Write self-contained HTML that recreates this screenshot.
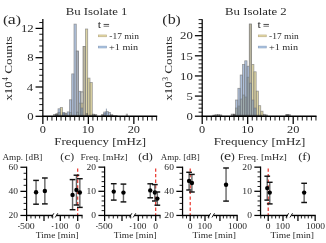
<!DOCTYPE html>
<html><head><meta charset="utf-8"><style>
html,body{margin:0;padding:0;background:#fff;}
svg{display:block;will-change:transform;}
text{font-family:"Liberation Serif", serif;fill:#2a2a2a;}
</style></head><body>
<svg width="326" height="243" viewBox="0 0 326 243">
<rect width="326" height="243" fill="#fff"/>
<rect x="53.44" y="114.30" width="2.29" height="2.00" fill="#555" fill-opacity="0.55" stroke="#333" stroke-opacity="0.4" stroke-width="0.6"/>
<rect x="55.72" y="114.00" width="2.29" height="2.30" fill="#555" fill-opacity="0.55" stroke="#333" stroke-opacity="0.4" stroke-width="0.6"/>
<rect x="58.00" y="112.50" width="2.29" height="3.80" fill="#b9a94b" fill-opacity="0.5" stroke="#7a7a7a" stroke-opacity="0.75" stroke-width="0.75"/>
<rect x="60.29" y="107.50" width="2.29" height="8.80" fill="#b9a94b" fill-opacity="0.5" stroke="#7a7a7a" stroke-opacity="0.75" stroke-width="0.75"/>
<rect x="62.58" y="113.00" width="2.29" height="3.30" fill="#555" fill-opacity="0.55" stroke="#333" stroke-opacity="0.4" stroke-width="0.6"/>
<rect x="64.86" y="113.20" width="2.29" height="3.10" fill="#555" fill-opacity="0.55" stroke="#333" stroke-opacity="0.4" stroke-width="0.6"/>
<rect x="69.43" y="112.50" width="2.29" height="3.80" fill="#b9a94b" fill-opacity="0.5" stroke="#7a7a7a" stroke-opacity="0.75" stroke-width="0.75"/>
<rect x="76.28" y="112.00" width="2.29" height="4.30" fill="#b9a94b" fill-opacity="0.5" stroke="#7a7a7a" stroke-opacity="0.75" stroke-width="0.75"/>
<rect x="78.57" y="103.10" width="2.29" height="13.20" fill="#b9a94b" fill-opacity="0.5" stroke="#7a7a7a" stroke-opacity="0.75" stroke-width="0.75"/>
<rect x="80.86" y="92.00" width="2.29" height="24.30" fill="#b9a94b" fill-opacity="0.5" stroke="#7a7a7a" stroke-opacity="0.75" stroke-width="0.75"/>
<rect x="83.14" y="46.40" width="2.29" height="69.90" fill="#b9a94b" fill-opacity="0.5" stroke="#7a7a7a" stroke-opacity="0.75" stroke-width="0.75"/>
<rect x="85.42" y="29.00" width="2.29" height="87.30" fill="#b9a94b" fill-opacity="0.5" stroke="#7a7a7a" stroke-opacity="0.75" stroke-width="0.75"/>
<rect x="87.71" y="78.10" width="2.29" height="38.20" fill="#b9a94b" fill-opacity="0.5" stroke="#7a7a7a" stroke-opacity="0.75" stroke-width="0.75"/>
<rect x="90.00" y="82.60" width="2.29" height="33.70" fill="#b9a94b" fill-opacity="0.5" stroke="#7a7a7a" stroke-opacity="0.75" stroke-width="0.75"/>
<rect x="92.28" y="114.00" width="2.29" height="2.30" fill="#555" fill-opacity="0.55" stroke="#333" stroke-opacity="0.4" stroke-width="0.6"/>
<rect x="94.56" y="114.50" width="2.29" height="1.80" fill="#555" fill-opacity="0.55" stroke="#333" stroke-opacity="0.4" stroke-width="0.6"/>
<rect x="101.42" y="114.30" width="2.29" height="2.00" fill="#555" fill-opacity="0.55" stroke="#333" stroke-opacity="0.4" stroke-width="0.6"/>
<rect x="103.70" y="113.50" width="2.29" height="2.80" fill="#555" fill-opacity="0.55" stroke="#333" stroke-opacity="0.4" stroke-width="0.6"/>
<rect x="55.72" y="113.70" width="2.29" height="2.60" fill="#555" fill-opacity="0.55" stroke="#333" stroke-opacity="0.4" stroke-width="0.6"/>
<rect x="58.00" y="108.80" width="2.29" height="7.50" fill="#5f81b5" fill-opacity="0.5" stroke="#7a7a7a" stroke-opacity="0.75" stroke-width="0.75"/>
<rect x="62.58" y="112.60" width="2.29" height="3.70" fill="#5f81b5" fill-opacity="0.5" stroke="#7a7a7a" stroke-opacity="0.75" stroke-width="0.75"/>
<rect x="67.14" y="111.90" width="2.29" height="4.40" fill="#5f81b5" fill-opacity="0.5" stroke="#7a7a7a" stroke-opacity="0.75" stroke-width="0.75"/>
<rect x="69.43" y="99.80" width="2.29" height="16.50" fill="#5f81b5" fill-opacity="0.5" stroke="#7a7a7a" stroke-opacity="0.75" stroke-width="0.75"/>
<rect x="71.72" y="73.90" width="2.29" height="42.40" fill="#5f81b5" fill-opacity="0.5" stroke="#7a7a7a" stroke-opacity="0.75" stroke-width="0.75"/>
<rect x="74.00" y="24.10" width="2.29" height="92.20" fill="#5f81b5" fill-opacity="0.5" stroke="#7a7a7a" stroke-opacity="0.75" stroke-width="0.75"/>
<rect x="76.28" y="51.10" width="2.29" height="65.20" fill="#5f81b5" fill-opacity="0.5" stroke="#7a7a7a" stroke-opacity="0.75" stroke-width="0.75"/>
<rect x="78.57" y="91.30" width="2.29" height="25.00" fill="#5f81b5" fill-opacity="0.5" stroke="#7a7a7a" stroke-opacity="0.75" stroke-width="0.75"/>
<rect x="80.86" y="108.00" width="2.29" height="8.30" fill="#5f81b5" fill-opacity="0.5" stroke="#7a7a7a" stroke-opacity="0.75" stroke-width="0.75"/>
<rect x="83.14" y="112.00" width="2.29" height="4.30" fill="#5f81b5" fill-opacity="0.5" stroke="#7a7a7a" stroke-opacity="0.75" stroke-width="0.75"/>
<rect x="85.42" y="113.50" width="2.29" height="2.80" fill="#555" fill-opacity="0.55" stroke="#333" stroke-opacity="0.4" stroke-width="0.6"/>
<rect x="103.70" y="112.00" width="2.29" height="4.30" fill="#5f81b5" fill-opacity="0.5" stroke="#7a7a7a" stroke-opacity="0.75" stroke-width="0.75"/>
<rect x="105.99" y="111.60" width="2.29" height="4.70" fill="#5f81b5" fill-opacity="0.5" stroke="#7a7a7a" stroke-opacity="0.75" stroke-width="0.75"/>
<rect x="108.28" y="112.40" width="2.29" height="3.90" fill="#5f81b5" fill-opacity="0.5" stroke="#7a7a7a" stroke-opacity="0.75" stroke-width="0.75"/>
<rect x="110.56" y="114.60" width="2.29" height="1.70" fill="#555" fill-opacity="0.55" stroke="#333" stroke-opacity="0.4" stroke-width="0.6"/>
<rect x="76.28" y="51.10" width="2.29" height="60.90" fill="#a9b0bc" stroke="#7a7a7a" stroke-opacity="0.75" stroke-width="0.75"/>
<rect x="83.14" y="46.40" width="2.29" height="69.90" fill="#bdb8a0" stroke="#7a7a7a" stroke-opacity="0.75" stroke-width="0.75"/>
<rect x="80.86" y="92.00" width="2.29" height="11.10" fill="#cfcfc8" stroke="#7a7a7a" stroke-opacity="0.75" stroke-width="0.75"/>
<rect x="56.0" y="114.80" width="40.0" height="1.5" fill="#444" fill-opacity="0.55"/>
<rect x="101.5" y="115.00" width="16.0" height="1.3" fill="#444" fill-opacity="0.5"/>
<rect x="125.8" y="113.70" width="2.2" height="2.6" fill="#555" fill-opacity="0.5"/>
<rect x="105.9" y="108.6" width="0.9" height="7.70" fill="#6f7f95" fill-opacity="0.8"/>
<line x1="42.85" y1="19.00" x2="42.85" y2="116.30" stroke="#000" stroke-width="1.25" />
<line x1="42.25" y1="116.30" x2="157.20" y2="116.30" stroke="#000" stroke-width="1.4" />
<line x1="42.85" y1="116.30" x2="42.85" y2="124.10" stroke="#000" stroke-width="1.25" />
<line x1="47.40" y1="116.30" x2="47.40" y2="120.60" stroke="#000" stroke-width="0.9" />
<line x1="51.95" y1="116.30" x2="51.95" y2="120.60" stroke="#000" stroke-width="0.9" />
<line x1="56.50" y1="116.30" x2="56.50" y2="120.60" stroke="#000" stroke-width="0.9" />
<line x1="61.05" y1="116.30" x2="61.05" y2="120.60" stroke="#000" stroke-width="0.9" />
<line x1="65.60" y1="116.30" x2="65.60" y2="120.60" stroke="#000" stroke-width="0.9" />
<line x1="70.15" y1="116.30" x2="70.15" y2="120.60" stroke="#000" stroke-width="0.9" />
<line x1="74.70" y1="116.30" x2="74.70" y2="120.60" stroke="#000" stroke-width="0.9" />
<line x1="79.25" y1="116.30" x2="79.25" y2="120.60" stroke="#000" stroke-width="0.9" />
<line x1="83.80" y1="116.30" x2="83.80" y2="120.60" stroke="#000" stroke-width="0.9" />
<line x1="88.35" y1="116.30" x2="88.35" y2="124.10" stroke="#000" stroke-width="1.25" />
<line x1="92.90" y1="116.30" x2="92.90" y2="120.60" stroke="#000" stroke-width="0.9" />
<line x1="97.45" y1="116.30" x2="97.45" y2="120.60" stroke="#000" stroke-width="0.9" />
<line x1="102.00" y1="116.30" x2="102.00" y2="120.60" stroke="#000" stroke-width="0.9" />
<line x1="106.55" y1="116.30" x2="106.55" y2="120.60" stroke="#000" stroke-width="0.9" />
<line x1="111.10" y1="116.30" x2="111.10" y2="120.60" stroke="#000" stroke-width="0.9" />
<line x1="115.65" y1="116.30" x2="115.65" y2="120.60" stroke="#000" stroke-width="0.9" />
<line x1="120.20" y1="116.30" x2="120.20" y2="120.60" stroke="#000" stroke-width="0.9" />
<line x1="124.75" y1="116.30" x2="124.75" y2="120.60" stroke="#000" stroke-width="0.9" />
<line x1="129.30" y1="116.30" x2="129.30" y2="120.60" stroke="#000" stroke-width="0.9" />
<line x1="133.85" y1="116.30" x2="133.85" y2="124.10" stroke="#000" stroke-width="1.25" />
<line x1="138.40" y1="116.30" x2="138.40" y2="120.60" stroke="#000" stroke-width="0.9" />
<line x1="142.95" y1="116.30" x2="142.95" y2="120.60" stroke="#000" stroke-width="0.9" />
<line x1="147.50" y1="116.30" x2="147.50" y2="120.60" stroke="#000" stroke-width="0.9" />
<line x1="152.05" y1="116.30" x2="152.05" y2="120.60" stroke="#000" stroke-width="0.9" />
<line x1="156.60" y1="116.30" x2="156.60" y2="120.60" stroke="#000" stroke-width="0.9" />
<text x="39.77" y="133.00" font-size="11" textLength="6.16" lengthAdjust="spacingAndGlyphs" >0</text>
<text x="81.88" y="133.00" font-size="11" textLength="12.32" lengthAdjust="spacingAndGlyphs" >10</text>
<text x="127.65" y="133.00" font-size="11" textLength="12.32" lengthAdjust="spacingAndGlyphs" >20</text>
<line x1="35.55" y1="116.30" x2="42.85" y2="116.30" stroke="#000" stroke-width="1.25" />
<text x="27.15" y="120.05" font-size="11.4" textLength="6.38" lengthAdjust="spacingAndGlyphs" >0</text>
<line x1="35.55" y1="87.00" x2="42.85" y2="87.00" stroke="#000" stroke-width="1.25" />
<text x="26.87" y="90.75" font-size="11.4" textLength="6.38" lengthAdjust="spacingAndGlyphs" >4</text>
<line x1="35.55" y1="57.70" x2="42.85" y2="57.70" stroke="#000" stroke-width="1.25" />
<text x="27.15" y="61.45" font-size="11.4" textLength="6.38" lengthAdjust="spacingAndGlyphs" >8</text>
<line x1="35.55" y1="28.40" x2="42.85" y2="28.40" stroke="#000" stroke-width="1.25" />
<text x="20.99" y="32.15" font-size="11.4" textLength="12.77" lengthAdjust="spacingAndGlyphs" >12</text>
<line x1="39.25" y1="110.44" x2="42.85" y2="110.44" stroke="#000" stroke-width="0.9" />
<line x1="39.25" y1="104.58" x2="42.85" y2="104.58" stroke="#000" stroke-width="0.9" />
<line x1="39.25" y1="98.72" x2="42.85" y2="98.72" stroke="#000" stroke-width="0.9" />
<line x1="39.25" y1="92.86" x2="42.85" y2="92.86" stroke="#000" stroke-width="0.9" />
<line x1="39.25" y1="81.14" x2="42.85" y2="81.14" stroke="#000" stroke-width="0.9" />
<line x1="39.25" y1="75.28" x2="42.85" y2="75.28" stroke="#000" stroke-width="0.9" />
<line x1="39.25" y1="69.42" x2="42.85" y2="69.42" stroke="#000" stroke-width="0.9" />
<line x1="39.25" y1="63.56" x2="42.85" y2="63.56" stroke="#000" stroke-width="0.9" />
<line x1="39.25" y1="51.84" x2="42.85" y2="51.84" stroke="#000" stroke-width="0.9" />
<line x1="39.25" y1="45.98" x2="42.85" y2="45.98" stroke="#000" stroke-width="0.9" />
<line x1="39.25" y1="40.12" x2="42.85" y2="40.12" stroke="#000" stroke-width="0.9" />
<line x1="39.25" y1="34.26" x2="42.85" y2="34.26" stroke="#000" stroke-width="0.9" />
<line x1="39.25" y1="22.54" x2="42.85" y2="22.54" stroke="#000" stroke-width="0.9" />
<text x="54.33" y="144.90" font-size="11" textLength="91.63" lengthAdjust="spacingAndGlyphs" >Frequency [mHz]</text>
<text x="65.73" y="14.70" font-size="11.4" textLength="61.74" lengthAdjust="spacingAndGlyphs" >Bu Isolate 1</text>
<text x="3.00" y="24.40" font-size="13.1" textLength="5.32" lengthAdjust="spacingAndGlyphs" >(</text>
<text x="7.77" y="24.40" font-size="14.6" textLength="7.98" lengthAdjust="spacingAndGlyphs" >a</text>
<text x="15.69" y="24.40" font-size="13.1" textLength="5.32" lengthAdjust="spacingAndGlyphs" >)</text>
<g transform="translate(12.40,100.4) rotate(-90)"><text x="-0.11" y="0.00" font-size="11" textLength="18.99" lengthAdjust="spacingAndGlyphs">x10</text><text x="19.77" y="-4.10" font-size="7.9" textLength="3.33" lengthAdjust="spacingAndGlyphs">4</text><text x="26.56" y="0.00" font-size="11" textLength="37.62" lengthAdjust="spacingAndGlyphs">Counts</text></g>
<text x="97.78" y="27.80" font-size="10.0" textLength="3.39" lengthAdjust="spacingAndGlyphs" >t</text>
<line x1="103.60" y1="24.45" x2="109.10" y2="24.45" stroke="#222" stroke-width="0.8" />
<line x1="103.60" y1="26.25" x2="109.10" y2="26.25" stroke="#444" stroke-width="0.75" />
<rect x="98.50" y="35.0" width="7.9" height="1.7" fill="#efe4a8" stroke="#bdb089" stroke-width="0.75"/>
<text x="109.25" y="38.80" font-size="8.6" textLength="29.69" lengthAdjust="spacingAndGlyphs" >-17 min</text>
<rect x="98.50" y="46.2" width="7.9" height="1.7" fill="#afcdf0" stroke="#8ea3bf" stroke-width="0.75"/>
<text x="109.10" y="50.00" font-size="8.6" textLength="29.06" lengthAdjust="spacingAndGlyphs" >+1 min</text>
<rect x="233.31" y="114.00" width="2.29" height="2.20" fill="#555" fill-opacity="0.55" stroke="#333" stroke-opacity="0.4" stroke-width="0.6"/>
<rect x="235.60" y="108.00" width="2.29" height="8.20" fill="#b9a94b" fill-opacity="0.5" stroke="#7a7a7a" stroke-opacity="0.75" stroke-width="0.75"/>
<rect x="237.88" y="106.00" width="2.29" height="10.20" fill="#b9a94b" fill-opacity="0.5" stroke="#7a7a7a" stroke-opacity="0.75" stroke-width="0.75"/>
<rect x="240.17" y="99.00" width="2.29" height="17.20" fill="#b9a94b" fill-opacity="0.5" stroke="#7a7a7a" stroke-opacity="0.75" stroke-width="0.75"/>
<rect x="242.45" y="95.00" width="2.29" height="21.20" fill="#b9a94b" fill-opacity="0.5" stroke="#7a7a7a" stroke-opacity="0.75" stroke-width="0.75"/>
<rect x="244.74" y="97.00" width="2.29" height="19.20" fill="#b9a94b" fill-opacity="0.5" stroke="#7a7a7a" stroke-opacity="0.75" stroke-width="0.75"/>
<rect x="247.03" y="77.20" width="2.29" height="39.00" fill="#b9a94b" fill-opacity="0.5" stroke="#7a7a7a" stroke-opacity="0.75" stroke-width="0.75"/>
<rect x="249.31" y="24.10" width="2.29" height="92.10" fill="#b9a94b" fill-opacity="0.5" stroke="#7a7a7a" stroke-opacity="0.75" stroke-width="0.75"/>
<rect x="251.59" y="64.50" width="2.29" height="51.70" fill="#b9a94b" fill-opacity="0.5" stroke="#7a7a7a" stroke-opacity="0.75" stroke-width="0.75"/>
<rect x="253.88" y="71.80" width="2.29" height="44.40" fill="#b9a94b" fill-opacity="0.5" stroke="#7a7a7a" stroke-opacity="0.75" stroke-width="0.75"/>
<rect x="256.17" y="91.10" width="2.29" height="25.10" fill="#b9a94b" fill-opacity="0.5" stroke="#7a7a7a" stroke-opacity="0.75" stroke-width="0.75"/>
<rect x="258.45" y="105.70" width="2.29" height="10.50" fill="#b9a94b" fill-opacity="0.5" stroke="#7a7a7a" stroke-opacity="0.75" stroke-width="0.75"/>
<rect x="260.74" y="111.20" width="2.29" height="5.00" fill="#b9a94b" fill-opacity="0.5" stroke="#7a7a7a" stroke-opacity="0.75" stroke-width="0.75"/>
<rect x="263.02" y="114.20" width="2.29" height="2.00" fill="#555" fill-opacity="0.55" stroke="#333" stroke-opacity="0.4" stroke-width="0.6"/>
<rect x="265.31" y="114.80" width="2.29" height="1.40" fill="#555" fill-opacity="0.55" stroke="#333" stroke-opacity="0.4" stroke-width="0.6"/>
<rect x="285.87" y="114.60" width="2.29" height="1.60" fill="#555" fill-opacity="0.55" stroke="#333" stroke-opacity="0.4" stroke-width="0.6"/>
<rect x="212.75" y="115.00" width="2.29" height="1.20" fill="#555" fill-opacity="0.55" stroke="#333" stroke-opacity="0.4" stroke-width="0.6"/>
<rect x="215.03" y="114.60" width="2.29" height="1.60" fill="#555" fill-opacity="0.55" stroke="#333" stroke-opacity="0.4" stroke-width="0.6"/>
<rect x="217.32" y="114.40" width="2.29" height="1.80" fill="#555" fill-opacity="0.55" stroke="#333" stroke-opacity="0.4" stroke-width="0.6"/>
<rect x="219.60" y="114.80" width="2.29" height="1.40" fill="#555" fill-opacity="0.55" stroke="#333" stroke-opacity="0.4" stroke-width="0.6"/>
<rect x="231.03" y="114.00" width="2.29" height="2.20" fill="#555" fill-opacity="0.55" stroke="#333" stroke-opacity="0.4" stroke-width="0.6"/>
<rect x="233.31" y="114.60" width="2.29" height="1.60" fill="#555" fill-opacity="0.55" stroke="#333" stroke-opacity="0.4" stroke-width="0.6"/>
<rect x="235.60" y="100.00" width="2.29" height="16.20" fill="#5f81b5" fill-opacity="0.5" stroke="#7a7a7a" stroke-opacity="0.75" stroke-width="0.75"/>
<rect x="237.88" y="88.30" width="2.29" height="27.90" fill="#5f81b5" fill-opacity="0.5" stroke="#7a7a7a" stroke-opacity="0.75" stroke-width="0.75"/>
<rect x="240.17" y="75.00" width="2.29" height="41.20" fill="#5f81b5" fill-opacity="0.5" stroke="#7a7a7a" stroke-opacity="0.75" stroke-width="0.75"/>
<rect x="242.45" y="64.50" width="2.29" height="51.70" fill="#5f81b5" fill-opacity="0.5" stroke="#7a7a7a" stroke-opacity="0.75" stroke-width="0.75"/>
<rect x="244.74" y="60.80" width="2.29" height="55.40" fill="#5f81b5" fill-opacity="0.5" stroke="#7a7a7a" stroke-opacity="0.75" stroke-width="0.75"/>
<rect x="247.03" y="66.20" width="2.29" height="50.00" fill="#5f81b5" fill-opacity="0.5" stroke="#7a7a7a" stroke-opacity="0.75" stroke-width="0.75"/>
<rect x="249.31" y="83.00" width="2.29" height="33.20" fill="#5f81b5" fill-opacity="0.5" stroke="#7a7a7a" stroke-opacity="0.75" stroke-width="0.75"/>
<rect x="251.59" y="100.00" width="2.29" height="16.20" fill="#5f81b5" fill-opacity="0.5" stroke="#7a7a7a" stroke-opacity="0.75" stroke-width="0.75"/>
<rect x="253.88" y="108.00" width="2.29" height="8.20" fill="#5f81b5" fill-opacity="0.5" stroke="#7a7a7a" stroke-opacity="0.75" stroke-width="0.75"/>
<rect x="285.87" y="114.60" width="2.29" height="1.60" fill="#555" fill-opacity="0.55" stroke="#333" stroke-opacity="0.4" stroke-width="0.6"/>
<rect x="288.15" y="114.50" width="2.29" height="1.70" fill="#555" fill-opacity="0.55" stroke="#333" stroke-opacity="0.4" stroke-width="0.6"/>
<rect x="249.31" y="24.10" width="2.29" height="58.90" fill="#bab6a0" stroke="#7a7a7a" stroke-opacity="0.75" stroke-width="0.75"/>
<rect x="233.0" y="114.70" width="29.0" height="1.5" fill="#444" fill-opacity="0.55"/>
<line x1="202.20" y1="19.20" x2="202.20" y2="116.20" stroke="#000" stroke-width="1.25" />
<line x1="201.60" y1="116.20" x2="316.55" y2="116.20" stroke="#000" stroke-width="1.4" />
<line x1="202.20" y1="116.20" x2="202.20" y2="124.00" stroke="#000" stroke-width="1.25" />
<line x1="206.75" y1="116.20" x2="206.75" y2="120.50" stroke="#000" stroke-width="0.9" />
<line x1="211.30" y1="116.20" x2="211.30" y2="120.50" stroke="#000" stroke-width="0.9" />
<line x1="215.85" y1="116.20" x2="215.85" y2="120.50" stroke="#000" stroke-width="0.9" />
<line x1="220.40" y1="116.20" x2="220.40" y2="120.50" stroke="#000" stroke-width="0.9" />
<line x1="224.95" y1="116.20" x2="224.95" y2="120.50" stroke="#000" stroke-width="0.9" />
<line x1="229.50" y1="116.20" x2="229.50" y2="120.50" stroke="#000" stroke-width="0.9" />
<line x1="234.05" y1="116.20" x2="234.05" y2="120.50" stroke="#000" stroke-width="0.9" />
<line x1="238.60" y1="116.20" x2="238.60" y2="120.50" stroke="#000" stroke-width="0.9" />
<line x1="243.15" y1="116.20" x2="243.15" y2="120.50" stroke="#000" stroke-width="0.9" />
<line x1="247.70" y1="116.20" x2="247.70" y2="124.00" stroke="#000" stroke-width="1.25" />
<line x1="252.25" y1="116.20" x2="252.25" y2="120.50" stroke="#000" stroke-width="0.9" />
<line x1="256.80" y1="116.20" x2="256.80" y2="120.50" stroke="#000" stroke-width="0.9" />
<line x1="261.35" y1="116.20" x2="261.35" y2="120.50" stroke="#000" stroke-width="0.9" />
<line x1="265.90" y1="116.20" x2="265.90" y2="120.50" stroke="#000" stroke-width="0.9" />
<line x1="270.45" y1="116.20" x2="270.45" y2="120.50" stroke="#000" stroke-width="0.9" />
<line x1="275.00" y1="116.20" x2="275.00" y2="120.50" stroke="#000" stroke-width="0.9" />
<line x1="279.55" y1="116.20" x2="279.55" y2="120.50" stroke="#000" stroke-width="0.9" />
<line x1="284.10" y1="116.20" x2="284.10" y2="120.50" stroke="#000" stroke-width="0.9" />
<line x1="288.65" y1="116.20" x2="288.65" y2="120.50" stroke="#000" stroke-width="0.9" />
<line x1="293.20" y1="116.20" x2="293.20" y2="124.00" stroke="#000" stroke-width="1.25" />
<line x1="297.75" y1="116.20" x2="297.75" y2="120.50" stroke="#000" stroke-width="0.9" />
<line x1="302.30" y1="116.20" x2="302.30" y2="120.50" stroke="#000" stroke-width="0.9" />
<line x1="306.85" y1="116.20" x2="306.85" y2="120.50" stroke="#000" stroke-width="0.9" />
<line x1="311.40" y1="116.20" x2="311.40" y2="120.50" stroke="#000" stroke-width="0.9" />
<line x1="315.95" y1="116.20" x2="315.95" y2="120.50" stroke="#000" stroke-width="0.9" />
<text x="199.12" y="133.00" font-size="11" textLength="6.16" lengthAdjust="spacingAndGlyphs" >0</text>
<text x="241.23" y="133.00" font-size="11" textLength="12.32" lengthAdjust="spacingAndGlyphs" >10</text>
<text x="287.00" y="133.00" font-size="11" textLength="12.32" lengthAdjust="spacingAndGlyphs" >20</text>
<line x1="194.90" y1="116.20" x2="202.20" y2="116.20" stroke="#000" stroke-width="1.25" />
<text x="186.50" y="119.95" font-size="11.4" textLength="6.38" lengthAdjust="spacingAndGlyphs" >0</text>
<line x1="194.90" y1="96.08" x2="202.20" y2="96.08" stroke="#000" stroke-width="1.25" />
<text x="186.51" y="99.83" font-size="11.4" textLength="6.38" lengthAdjust="spacingAndGlyphs" >5</text>
<line x1="194.90" y1="75.95" x2="202.20" y2="75.95" stroke="#000" stroke-width="1.25" />
<text x="180.12" y="79.70" font-size="11.4" textLength="12.77" lengthAdjust="spacingAndGlyphs" >10</text>
<line x1="194.90" y1="55.82" x2="202.20" y2="55.82" stroke="#000" stroke-width="1.25" />
<text x="180.13" y="59.57" font-size="11.4" textLength="12.77" lengthAdjust="spacingAndGlyphs" >15</text>
<line x1="194.90" y1="35.70" x2="202.20" y2="35.70" stroke="#000" stroke-width="1.25" />
<text x="180.12" y="39.45" font-size="11.4" textLength="12.77" lengthAdjust="spacingAndGlyphs" >20</text>
<line x1="198.60" y1="112.17" x2="202.20" y2="112.17" stroke="#000" stroke-width="0.9" />
<line x1="198.60" y1="108.15" x2="202.20" y2="108.15" stroke="#000" stroke-width="0.9" />
<line x1="198.60" y1="104.12" x2="202.20" y2="104.12" stroke="#000" stroke-width="0.9" />
<line x1="198.60" y1="100.10" x2="202.20" y2="100.10" stroke="#000" stroke-width="0.9" />
<line x1="198.60" y1="92.05" x2="202.20" y2="92.05" stroke="#000" stroke-width="0.9" />
<line x1="198.60" y1="88.03" x2="202.20" y2="88.03" stroke="#000" stroke-width="0.9" />
<line x1="198.60" y1="84.00" x2="202.20" y2="84.00" stroke="#000" stroke-width="0.9" />
<line x1="198.60" y1="79.97" x2="202.20" y2="79.97" stroke="#000" stroke-width="0.9" />
<line x1="198.60" y1="71.92" x2="202.20" y2="71.92" stroke="#000" stroke-width="0.9" />
<line x1="198.60" y1="67.90" x2="202.20" y2="67.90" stroke="#000" stroke-width="0.9" />
<line x1="198.60" y1="63.88" x2="202.20" y2="63.88" stroke="#000" stroke-width="0.9" />
<line x1="198.60" y1="59.85" x2="202.20" y2="59.85" stroke="#000" stroke-width="0.9" />
<line x1="198.60" y1="51.80" x2="202.20" y2="51.80" stroke="#000" stroke-width="0.9" />
<line x1="198.60" y1="47.77" x2="202.20" y2="47.77" stroke="#000" stroke-width="0.9" />
<line x1="198.60" y1="43.75" x2="202.20" y2="43.75" stroke="#000" stroke-width="0.9" />
<line x1="198.60" y1="39.72" x2="202.20" y2="39.72" stroke="#000" stroke-width="0.9" />
<line x1="198.60" y1="31.67" x2="202.20" y2="31.67" stroke="#000" stroke-width="0.9" />
<line x1="198.60" y1="27.65" x2="202.20" y2="27.65" stroke="#000" stroke-width="0.9" />
<line x1="198.60" y1="23.62" x2="202.20" y2="23.62" stroke="#000" stroke-width="0.9" />
<line x1="198.60" y1="19.60" x2="202.20" y2="19.60" stroke="#000" stroke-width="0.9" />
<text x="213.68" y="144.90" font-size="11" textLength="91.63" lengthAdjust="spacingAndGlyphs" >Frequency [mHz]</text>
<text x="225.08" y="14.70" font-size="11.4" textLength="61.67" lengthAdjust="spacingAndGlyphs" >Bu Isolate 2</text>
<text x="162.30" y="24.40" font-size="13.1" textLength="5.32" lengthAdjust="spacingAndGlyphs" >(</text>
<text x="167.80" y="24.40" font-size="13.9" textLength="8.01" lengthAdjust="spacingAndGlyphs" >b</text>
<text x="175.40" y="24.40" font-size="13.1" textLength="5.19" lengthAdjust="spacingAndGlyphs" >)</text>
<g transform="translate(172.10,100.4) rotate(-90)"><text x="-0.11" y="0.00" font-size="11" textLength="18.99" lengthAdjust="spacingAndGlyphs">x10</text><text x="19.54" y="-4.10" font-size="7.9" textLength="3.75" lengthAdjust="spacingAndGlyphs">3</text><text x="26.56" y="0.00" font-size="11" textLength="37.62" lengthAdjust="spacingAndGlyphs">Counts</text></g>
<text x="257.63" y="27.80" font-size="10.0" textLength="3.39" lengthAdjust="spacingAndGlyphs" >t</text>
<line x1="263.45" y1="24.45" x2="268.95" y2="24.45" stroke="#222" stroke-width="0.8" />
<line x1="263.45" y1="26.25" x2="268.95" y2="26.25" stroke="#444" stroke-width="0.75" />
<rect x="258.35" y="35.0" width="7.9" height="1.7" fill="#efe4a8" stroke="#bdb089" stroke-width="0.75"/>
<text x="269.10" y="38.80" font-size="8.6" textLength="29.69" lengthAdjust="spacingAndGlyphs" >-17 min</text>
<rect x="258.35" y="46.2" width="7.9" height="1.7" fill="#afcdf0" stroke="#8ea3bf" stroke-width="0.75"/>
<text x="268.95" y="50.00" font-size="8.6" textLength="29.06" lengthAdjust="spacingAndGlyphs" >+1 min</text>
<line x1="26.60" y1="166.65" x2="26.60" y2="215.45" stroke="#000" stroke-width="1.25" />
<line x1="20.40" y1="215.45" x2="26.60" y2="215.45" stroke="#000" stroke-width="1.25" />
<text x="8.44" y="218.25" font-size="8.5" textLength="9.52" lengthAdjust="spacingAndGlyphs" >20</text>
<line x1="20.40" y1="191.35" x2="26.60" y2="191.35" stroke="#000" stroke-width="1.25" />
<text x="8.44" y="194.15" font-size="8.5" textLength="9.52" lengthAdjust="spacingAndGlyphs" >40</text>
<line x1="20.40" y1="167.25" x2="26.60" y2="167.25" stroke="#000" stroke-width="1.25" />
<text x="8.44" y="170.05" font-size="8.5" textLength="9.52" lengthAdjust="spacingAndGlyphs" >60</text>
<line x1="23.60" y1="209.42" x2="26.60" y2="209.42" stroke="#000" stroke-width="0.9" />
<line x1="23.60" y1="203.40" x2="26.60" y2="203.40" stroke="#000" stroke-width="0.9" />
<line x1="23.60" y1="197.38" x2="26.60" y2="197.38" stroke="#000" stroke-width="0.9" />
<line x1="23.60" y1="185.32" x2="26.60" y2="185.32" stroke="#000" stroke-width="0.9" />
<line x1="23.60" y1="179.30" x2="26.60" y2="179.30" stroke="#000" stroke-width="0.9" />
<line x1="23.60" y1="173.27" x2="26.60" y2="173.27" stroke="#000" stroke-width="0.9" />
<text x="2.41" y="160.10" font-size="8.5" textLength="39.97" lengthAdjust="spacingAndGlyphs" >Amp. [dB]</text>
<text x="60.29" y="159.50" font-size="10.6" textLength="3.89" lengthAdjust="spacingAndGlyphs" >(</text>
<text x="64.16" y="159.50" font-size="11.4" textLength="6.27" lengthAdjust="spacingAndGlyphs" >c</text>
<text x="70.22" y="159.50" font-size="10.6" textLength="3.89" lengthAdjust="spacingAndGlyphs" >)</text>
<line x1="77.70" y1="168.40" x2="77.70" y2="215.45" stroke="#e8281e" stroke-width="1.15" stroke-dasharray="3.3,2.3"/>
<line x1="36.05" y1="180.40" x2="36.05" y2="204.20" stroke="#666" stroke-width="1.4" />
<line x1="33.20" y1="180.40" x2="38.90" y2="180.40" stroke="#111" stroke-width="1.45" />
<line x1="33.20" y1="204.20" x2="38.90" y2="204.20" stroke="#111" stroke-width="1.45" />
<circle cx="36.05" cy="192.30" r="2.2" fill="#000"/>
<line x1="44.85" y1="178.00" x2="44.85" y2="203.90" stroke="#666" stroke-width="1.4" />
<line x1="42.00" y1="178.00" x2="47.70" y2="178.00" stroke="#111" stroke-width="1.45" />
<line x1="42.00" y1="203.90" x2="47.70" y2="203.90" stroke="#111" stroke-width="1.45" />
<circle cx="44.85" cy="191.00" r="2.2" fill="#000"/>
<line x1="72.55" y1="179.60" x2="72.55" y2="209.70" stroke="#666" stroke-width="1.4" />
<line x1="69.70" y1="179.60" x2="75.40" y2="179.60" stroke="#111" stroke-width="1.45" />
<line x1="69.70" y1="209.70" x2="75.40" y2="209.70" stroke="#111" stroke-width="1.45" />
<circle cx="72.55" cy="194.90" r="2.2" fill="#000"/>
<line x1="76.45" y1="175.20" x2="76.45" y2="205.00" stroke="#666" stroke-width="1.4" />
<line x1="73.60" y1="175.20" x2="79.30" y2="175.20" stroke="#111" stroke-width="1.45" />
<line x1="73.60" y1="205.00" x2="79.30" y2="205.00" stroke="#111" stroke-width="1.45" />
<circle cx="76.45" cy="189.90" r="2.2" fill="#000"/>
<line x1="79.85" y1="178.70" x2="79.85" y2="207.40" stroke="#666" stroke-width="1.4" />
<line x1="77.00" y1="178.70" x2="82.70" y2="178.70" stroke="#111" stroke-width="1.45" />
<line x1="77.00" y1="207.40" x2="82.70" y2="207.40" stroke="#111" stroke-width="1.45" />
<circle cx="79.85" cy="192.50" r="2.2" fill="#000"/>
<line x1="26.00" y1="215.45" x2="53.00" y2="215.45" stroke="#000" stroke-width="1.4" />
<line x1="26.60" y1="215.45" x2="26.60" y2="221.05" stroke="#000" stroke-width="1.25" />
<line x1="30.95" y1="215.45" x2="30.95" y2="218.45" stroke="#000" stroke-width="0.9" />
<line x1="35.30" y1="215.45" x2="35.30" y2="218.45" stroke="#000" stroke-width="0.9" />
<line x1="39.65" y1="215.45" x2="39.65" y2="218.45" stroke="#000" stroke-width="0.9" />
<line x1="44.00" y1="215.45" x2="44.00" y2="221.05" stroke="#000" stroke-width="1.25" />
<line x1="48.35" y1="215.45" x2="48.35" y2="218.45" stroke="#000" stroke-width="0.9" />
<line x1="52.70" y1="215.45" x2="52.70" y2="218.45" stroke="#000" stroke-width="0.9" />
<line x1="51.30" y1="217.45" x2="53.90" y2="213.25" stroke="#000" stroke-width="0.9" />
<line x1="55.20" y1="217.45" x2="57.80" y2="213.25" stroke="#000" stroke-width="0.9" />
<line x1="56.30" y1="215.45" x2="82.55" y2="215.45" stroke="#000" stroke-width="1.4" />
<line x1="60.30" y1="215.45" x2="60.30" y2="221.05" stroke="#000" stroke-width="1.25" />
<line x1="64.65" y1="215.45" x2="64.65" y2="218.45" stroke="#000" stroke-width="0.9" />
<line x1="69.00" y1="215.45" x2="69.00" y2="218.45" stroke="#000" stroke-width="0.9" />
<line x1="73.35" y1="215.45" x2="73.35" y2="218.45" stroke="#000" stroke-width="0.9" />
<line x1="77.70" y1="215.45" x2="77.70" y2="221.05" stroke="#000" stroke-width="1.25" />
<line x1="82.05" y1="215.45" x2="82.05" y2="218.45" stroke="#000" stroke-width="0.9" />
<line x1="18.10" y1="226.50" x2="19.70" y2="226.50" stroke="#444" stroke-width="0.9" />
<text x="20.03" y="228.90" font-size="8.5" textLength="14.75" lengthAdjust="spacingAndGlyphs" >500</text>
<line x1="51.80" y1="226.50" x2="53.40" y2="226.50" stroke="#444" stroke-width="0.9" />
<text x="54.37" y="228.90" font-size="8.5" textLength="14.08" lengthAdjust="spacingAndGlyphs" >100</text>
<text x="75.32" y="228.70" font-size="8.5" textLength="4.76" lengthAdjust="spacingAndGlyphs" >0</text>
<text x="35.83" y="238.30" font-size="8.5" textLength="42.76" lengthAdjust="spacingAndGlyphs" >Time [min]</text>
<line x1="104.60" y1="166.55" x2="104.60" y2="215.45" stroke="#000" stroke-width="1.25" />
<line x1="98.40" y1="215.45" x2="104.60" y2="215.45" stroke="#000" stroke-width="1.25" />
<text x="91.20" y="218.25" font-size="8.5" textLength="4.76" lengthAdjust="spacingAndGlyphs" >0</text>
<line x1="98.40" y1="191.30" x2="104.60" y2="191.30" stroke="#000" stroke-width="1.25" />
<text x="86.44" y="194.10" font-size="8.5" textLength="9.52" lengthAdjust="spacingAndGlyphs" >10</text>
<line x1="98.40" y1="167.15" x2="104.60" y2="167.15" stroke="#000" stroke-width="1.25" />
<text x="86.44" y="169.95" font-size="8.5" textLength="9.52" lengthAdjust="spacingAndGlyphs" >20</text>
<line x1="101.60" y1="210.62" x2="104.60" y2="210.62" stroke="#000" stroke-width="0.9" />
<line x1="101.60" y1="205.79" x2="104.60" y2="205.79" stroke="#000" stroke-width="0.9" />
<line x1="101.60" y1="200.96" x2="104.60" y2="200.96" stroke="#000" stroke-width="0.9" />
<line x1="101.60" y1="196.13" x2="104.60" y2="196.13" stroke="#000" stroke-width="0.9" />
<line x1="101.60" y1="186.47" x2="104.60" y2="186.47" stroke="#000" stroke-width="0.9" />
<line x1="101.60" y1="181.64" x2="104.60" y2="181.64" stroke="#000" stroke-width="0.9" />
<line x1="101.60" y1="176.81" x2="104.60" y2="176.81" stroke="#000" stroke-width="0.9" />
<line x1="101.60" y1="171.98" x2="104.60" y2="171.98" stroke="#000" stroke-width="0.9" />
<text x="80.52" y="160.10" font-size="8.5" textLength="47.18" lengthAdjust="spacingAndGlyphs" >Freq. [mHz]</text>
<text x="138.29" y="159.50" font-size="10.6" textLength="3.89" lengthAdjust="spacingAndGlyphs" >(</text>
<text x="141.90" y="159.50" font-size="11.4" textLength="6.86" lengthAdjust="spacingAndGlyphs" >d</text>
<text x="148.81" y="159.50" font-size="10.6" textLength="4.02" lengthAdjust="spacingAndGlyphs" >)</text>
<line x1="155.70" y1="168.40" x2="155.70" y2="215.45" stroke="#e8281e" stroke-width="1.15" stroke-dasharray="3.3,2.3"/>
<line x1="113.75" y1="183.70" x2="113.75" y2="200.10" stroke="#666" stroke-width="1.4" />
<line x1="110.90" y1="183.70" x2="116.60" y2="183.70" stroke="#111" stroke-width="1.45" />
<line x1="110.90" y1="200.10" x2="116.60" y2="200.10" stroke="#111" stroke-width="1.45" />
<circle cx="113.75" cy="191.60" r="2.2" fill="#000"/>
<line x1="123.45" y1="184.10" x2="123.45" y2="201.90" stroke="#666" stroke-width="1.4" />
<line x1="120.60" y1="184.10" x2="126.30" y2="184.10" stroke="#111" stroke-width="1.45" />
<line x1="120.60" y1="201.90" x2="126.30" y2="201.90" stroke="#111" stroke-width="1.45" />
<circle cx="123.45" cy="192.60" r="2.2" fill="#000"/>
<line x1="150.25" y1="183.80" x2="150.25" y2="197.80" stroke="#666" stroke-width="1.4" />
<line x1="147.40" y1="183.80" x2="153.10" y2="183.80" stroke="#111" stroke-width="1.45" />
<line x1="147.40" y1="197.80" x2="153.10" y2="197.80" stroke="#111" stroke-width="1.45" />
<circle cx="150.25" cy="190.40" r="2.2" fill="#000"/>
<line x1="154.85" y1="184.60" x2="154.85" y2="201.00" stroke="#666" stroke-width="1.4" />
<line x1="152.00" y1="184.60" x2="157.70" y2="184.60" stroke="#111" stroke-width="1.45" />
<line x1="152.00" y1="201.00" x2="157.70" y2="201.00" stroke="#111" stroke-width="1.45" />
<circle cx="154.85" cy="192.50" r="2.2" fill="#000"/>
<line x1="157.35" y1="192.00" x2="157.35" y2="205.20" stroke="#666" stroke-width="1.4" />
<line x1="154.50" y1="192.00" x2="160.20" y2="192.00" stroke="#111" stroke-width="1.45" />
<line x1="154.50" y1="205.20" x2="160.20" y2="205.20" stroke="#111" stroke-width="1.45" />
<circle cx="157.35" cy="198.60" r="2.2" fill="#000"/>
<line x1="104.00" y1="215.45" x2="131.00" y2="215.45" stroke="#000" stroke-width="1.4" />
<line x1="104.60" y1="215.45" x2="104.60" y2="221.05" stroke="#000" stroke-width="1.25" />
<line x1="108.95" y1="215.45" x2="108.95" y2="218.45" stroke="#000" stroke-width="0.9" />
<line x1="113.30" y1="215.45" x2="113.30" y2="218.45" stroke="#000" stroke-width="0.9" />
<line x1="117.65" y1="215.45" x2="117.65" y2="218.45" stroke="#000" stroke-width="0.9" />
<line x1="122.00" y1="215.45" x2="122.00" y2="221.05" stroke="#000" stroke-width="1.25" />
<line x1="126.35" y1="215.45" x2="126.35" y2="218.45" stroke="#000" stroke-width="0.9" />
<line x1="130.70" y1="215.45" x2="130.70" y2="218.45" stroke="#000" stroke-width="0.9" />
<line x1="129.30" y1="217.45" x2="131.90" y2="213.25" stroke="#000" stroke-width="0.9" />
<line x1="133.20" y1="217.45" x2="135.80" y2="213.25" stroke="#000" stroke-width="0.9" />
<line x1="134.30" y1="215.45" x2="160.55" y2="215.45" stroke="#000" stroke-width="1.4" />
<line x1="138.30" y1="215.45" x2="138.30" y2="221.05" stroke="#000" stroke-width="1.25" />
<line x1="142.65" y1="215.45" x2="142.65" y2="218.45" stroke="#000" stroke-width="0.9" />
<line x1="147.00" y1="215.45" x2="147.00" y2="218.45" stroke="#000" stroke-width="0.9" />
<line x1="151.35" y1="215.45" x2="151.35" y2="218.45" stroke="#000" stroke-width="0.9" />
<line x1="155.70" y1="215.45" x2="155.70" y2="221.05" stroke="#000" stroke-width="1.25" />
<line x1="160.05" y1="215.45" x2="160.05" y2="218.45" stroke="#000" stroke-width="0.9" />
<line x1="96.10" y1="226.50" x2="97.70" y2="226.50" stroke="#444" stroke-width="0.9" />
<text x="98.03" y="228.90" font-size="8.5" textLength="14.75" lengthAdjust="spacingAndGlyphs" >500</text>
<line x1="129.80" y1="226.50" x2="131.40" y2="226.50" stroke="#444" stroke-width="0.9" />
<text x="132.37" y="228.90" font-size="8.5" textLength="14.08" lengthAdjust="spacingAndGlyphs" >100</text>
<text x="153.32" y="228.70" font-size="8.5" textLength="4.76" lengthAdjust="spacingAndGlyphs" >0</text>
<text x="113.83" y="238.30" font-size="8.5" textLength="42.76" lengthAdjust="spacingAndGlyphs" >Time [min]</text>
<line x1="182.55" y1="166.65" x2="182.55" y2="215.45" stroke="#000" stroke-width="1.25" />
<line x1="176.35" y1="215.45" x2="182.55" y2="215.45" stroke="#000" stroke-width="1.25" />
<text x="164.39" y="218.25" font-size="8.5" textLength="9.52" lengthAdjust="spacingAndGlyphs" >20</text>
<line x1="176.35" y1="191.35" x2="182.55" y2="191.35" stroke="#000" stroke-width="1.25" />
<text x="164.39" y="194.15" font-size="8.5" textLength="9.52" lengthAdjust="spacingAndGlyphs" >40</text>
<line x1="176.35" y1="167.25" x2="182.55" y2="167.25" stroke="#000" stroke-width="1.25" />
<text x="164.39" y="170.05" font-size="8.5" textLength="9.52" lengthAdjust="spacingAndGlyphs" >60</text>
<line x1="179.55" y1="209.42" x2="182.55" y2="209.42" stroke="#000" stroke-width="0.9" />
<line x1="179.55" y1="203.40" x2="182.55" y2="203.40" stroke="#000" stroke-width="0.9" />
<line x1="179.55" y1="197.38" x2="182.55" y2="197.38" stroke="#000" stroke-width="0.9" />
<line x1="179.55" y1="185.32" x2="182.55" y2="185.32" stroke="#000" stroke-width="0.9" />
<line x1="179.55" y1="179.30" x2="182.55" y2="179.30" stroke="#000" stroke-width="0.9" />
<line x1="179.55" y1="173.27" x2="182.55" y2="173.27" stroke="#000" stroke-width="0.9" />
<text x="160.71" y="160.10" font-size="8.5" textLength="39.06" lengthAdjust="spacingAndGlyphs" >Amp. [dB]</text>
<text x="220.24" y="159.50" font-size="10.6" textLength="4.28" lengthAdjust="spacingAndGlyphs" >(</text>
<text x="224.08" y="159.50" font-size="12.0" textLength="7.08" lengthAdjust="spacingAndGlyphs" >e</text>
<text x="230.81" y="159.50" font-size="10.6" textLength="4.02" lengthAdjust="spacingAndGlyphs" >)</text>
<line x1="190.20" y1="168.40" x2="190.20" y2="215.45" stroke="#e8281e" stroke-width="1.15" stroke-dasharray="3.3,2.3"/>
<line x1="189.10" y1="172.30" x2="189.10" y2="190.00" stroke="#666" stroke-width="1.4" />
<line x1="186.25" y1="172.30" x2="191.95" y2="172.30" stroke="#111" stroke-width="1.45" />
<line x1="186.25" y1="190.00" x2="191.95" y2="190.00" stroke="#111" stroke-width="1.45" />
<circle cx="189.10" cy="180.90" r="2.2" fill="#000"/>
<line x1="191.90" y1="174.40" x2="191.90" y2="192.00" stroke="#666" stroke-width="1.4" />
<line x1="189.05" y1="174.40" x2="194.75" y2="174.40" stroke="#111" stroke-width="1.45" />
<line x1="189.05" y1="192.00" x2="194.75" y2="192.00" stroke="#111" stroke-width="1.45" />
<circle cx="191.90" cy="183.00" r="2.2" fill="#000"/>
<line x1="226.05" y1="168.00" x2="226.05" y2="201.10" stroke="#666" stroke-width="1.4" />
<line x1="223.20" y1="168.00" x2="228.90" y2="168.00" stroke="#111" stroke-width="1.45" />
<line x1="223.20" y1="201.10" x2="228.90" y2="201.10" stroke="#111" stroke-width="1.45" />
<circle cx="226.05" cy="184.70" r="2.2" fill="#000"/>
<line x1="181.95" y1="215.45" x2="209.74" y2="215.45" stroke="#000" stroke-width="1.4" />
<line x1="182.80" y1="215.45" x2="182.80" y2="218.45" stroke="#000" stroke-width="0.9" />
<line x1="186.50" y1="215.45" x2="186.50" y2="218.45" stroke="#000" stroke-width="0.9" />
<line x1="190.20" y1="215.45" x2="190.20" y2="221.05" stroke="#000" stroke-width="1.25" />
<line x1="193.90" y1="215.45" x2="193.90" y2="218.45" stroke="#000" stroke-width="0.9" />
<line x1="197.60" y1="215.45" x2="197.60" y2="218.45" stroke="#000" stroke-width="0.9" />
<line x1="201.30" y1="215.45" x2="201.30" y2="218.45" stroke="#000" stroke-width="0.9" />
<line x1="205.00" y1="215.45" x2="205.00" y2="221.05" stroke="#000" stroke-width="1.25" />
<line x1="208.70" y1="215.45" x2="208.70" y2="218.45" stroke="#000" stroke-width="0.9" />
<line x1="208.04" y1="217.45" x2="210.64" y2="213.25" stroke="#000" stroke-width="0.9" />
<line x1="211.94" y1="217.45" x2="214.54" y2="213.25" stroke="#000" stroke-width="0.9" />
<line x1="213.41" y1="215.45" x2="237.75" y2="215.45" stroke="#000" stroke-width="1.4" />
<line x1="216.51" y1="215.45" x2="216.51" y2="218.45" stroke="#000" stroke-width="0.9" />
<line x1="219.95" y1="215.45" x2="219.95" y2="221.05" stroke="#000" stroke-width="1.25" />
<line x1="223.39" y1="215.45" x2="223.39" y2="218.45" stroke="#000" stroke-width="0.9" />
<line x1="226.83" y1="215.45" x2="226.83" y2="218.45" stroke="#000" stroke-width="0.9" />
<line x1="230.27" y1="215.45" x2="230.27" y2="218.45" stroke="#000" stroke-width="0.9" />
<line x1="233.71" y1="215.45" x2="233.71" y2="218.45" stroke="#000" stroke-width="0.9" />
<line x1="237.15" y1="215.45" x2="237.15" y2="221.05" stroke="#000" stroke-width="1.25" />
<text x="187.82" y="228.70" font-size="8.5" textLength="4.76" lengthAdjust="spacingAndGlyphs" >0</text>
<text x="197.62" y="228.70" font-size="8.5" textLength="14.28" lengthAdjust="spacingAndGlyphs" >100</text>
<text x="227.99" y="228.70" font-size="8.5" textLength="19.04" lengthAdjust="spacingAndGlyphs" >1000</text>
<text x="192.63" y="238.30" font-size="8.5" textLength="43.37" lengthAdjust="spacingAndGlyphs" >Time [min]</text>
<line x1="260.55" y1="166.55" x2="260.55" y2="215.45" stroke="#000" stroke-width="1.25" />
<line x1="254.35" y1="215.45" x2="260.55" y2="215.45" stroke="#000" stroke-width="1.25" />
<text x="247.15" y="218.25" font-size="8.5" textLength="4.76" lengthAdjust="spacingAndGlyphs" >0</text>
<line x1="254.35" y1="191.30" x2="260.55" y2="191.30" stroke="#000" stroke-width="1.25" />
<text x="242.39" y="194.10" font-size="8.5" textLength="9.52" lengthAdjust="spacingAndGlyphs" >10</text>
<line x1="254.35" y1="167.15" x2="260.55" y2="167.15" stroke="#000" stroke-width="1.25" />
<text x="242.39" y="169.95" font-size="8.5" textLength="9.52" lengthAdjust="spacingAndGlyphs" >20</text>
<line x1="257.55" y1="210.62" x2="260.55" y2="210.62" stroke="#000" stroke-width="0.9" />
<line x1="257.55" y1="205.79" x2="260.55" y2="205.79" stroke="#000" stroke-width="0.9" />
<line x1="257.55" y1="200.96" x2="260.55" y2="200.96" stroke="#000" stroke-width="0.9" />
<line x1="257.55" y1="196.13" x2="260.55" y2="196.13" stroke="#000" stroke-width="0.9" />
<line x1="257.55" y1="186.47" x2="260.55" y2="186.47" stroke="#000" stroke-width="0.9" />
<line x1="257.55" y1="181.64" x2="260.55" y2="181.64" stroke="#000" stroke-width="0.9" />
<line x1="257.55" y1="176.81" x2="260.55" y2="176.81" stroke="#000" stroke-width="0.9" />
<line x1="257.55" y1="171.98" x2="260.55" y2="171.98" stroke="#000" stroke-width="0.9" />
<text x="237.91" y="160.10" font-size="8.5" textLength="48.92" lengthAdjust="spacingAndGlyphs" >Freq. [mHz]</text>
<text x="298.24" y="159.50" font-size="10.6" textLength="4.28" lengthAdjust="spacingAndGlyphs" >(</text>
<text x="302.29" y="159.50" font-size="11.4" textLength="4.41" lengthAdjust="spacingAndGlyphs" >f</text>
<text x="306.61" y="159.50" font-size="10.6" textLength="4.02" lengthAdjust="spacingAndGlyphs" >)</text>
<line x1="268.20" y1="168.40" x2="268.20" y2="215.45" stroke="#e8281e" stroke-width="1.15" stroke-dasharray="3.3,2.3"/>
<line x1="267.25" y1="176.20" x2="267.25" y2="200.10" stroke="#666" stroke-width="1.4" />
<line x1="264.40" y1="176.20" x2="270.10" y2="176.20" stroke="#111" stroke-width="1.45" />
<line x1="264.40" y1="200.10" x2="270.10" y2="200.10" stroke="#111" stroke-width="1.45" />
<circle cx="267.25" cy="188.10" r="2.2" fill="#000"/>
<line x1="269.75" y1="182.30" x2="269.75" y2="203.90" stroke="#666" stroke-width="1.4" />
<line x1="266.90" y1="182.30" x2="272.60" y2="182.30" stroke="#111" stroke-width="1.45" />
<line x1="266.90" y1="203.90" x2="272.60" y2="203.90" stroke="#111" stroke-width="1.45" />
<circle cx="269.75" cy="192.60" r="2.2" fill="#000"/>
<line x1="304.15" y1="183.30" x2="304.15" y2="202.50" stroke="#666" stroke-width="1.4" />
<line x1="301.30" y1="183.30" x2="307.00" y2="183.30" stroke="#111" stroke-width="1.45" />
<line x1="301.30" y1="202.50" x2="307.00" y2="202.50" stroke="#111" stroke-width="1.45" />
<circle cx="304.15" cy="192.60" r="2.2" fill="#000"/>
<line x1="259.95" y1="215.45" x2="287.74" y2="215.45" stroke="#000" stroke-width="1.4" />
<line x1="260.80" y1="215.45" x2="260.80" y2="218.45" stroke="#000" stroke-width="0.9" />
<line x1="264.50" y1="215.45" x2="264.50" y2="218.45" stroke="#000" stroke-width="0.9" />
<line x1="268.20" y1="215.45" x2="268.20" y2="221.05" stroke="#000" stroke-width="1.25" />
<line x1="271.90" y1="215.45" x2="271.90" y2="218.45" stroke="#000" stroke-width="0.9" />
<line x1="275.60" y1="215.45" x2="275.60" y2="218.45" stroke="#000" stroke-width="0.9" />
<line x1="279.30" y1="215.45" x2="279.30" y2="218.45" stroke="#000" stroke-width="0.9" />
<line x1="283.00" y1="215.45" x2="283.00" y2="221.05" stroke="#000" stroke-width="1.25" />
<line x1="286.70" y1="215.45" x2="286.70" y2="218.45" stroke="#000" stroke-width="0.9" />
<line x1="286.04" y1="217.45" x2="288.64" y2="213.25" stroke="#000" stroke-width="0.9" />
<line x1="289.94" y1="217.45" x2="292.54" y2="213.25" stroke="#000" stroke-width="0.9" />
<line x1="291.41" y1="215.45" x2="315.75" y2="215.45" stroke="#000" stroke-width="1.4" />
<line x1="294.51" y1="215.45" x2="294.51" y2="218.45" stroke="#000" stroke-width="0.9" />
<line x1="297.95" y1="215.45" x2="297.95" y2="221.05" stroke="#000" stroke-width="1.25" />
<line x1="301.39" y1="215.45" x2="301.39" y2="218.45" stroke="#000" stroke-width="0.9" />
<line x1="304.83" y1="215.45" x2="304.83" y2="218.45" stroke="#000" stroke-width="0.9" />
<line x1="308.27" y1="215.45" x2="308.27" y2="218.45" stroke="#000" stroke-width="0.9" />
<line x1="311.71" y1="215.45" x2="311.71" y2="218.45" stroke="#000" stroke-width="0.9" />
<line x1="315.15" y1="215.45" x2="315.15" y2="221.05" stroke="#000" stroke-width="1.25" />
<text x="265.82" y="228.70" font-size="8.5" textLength="4.76" lengthAdjust="spacingAndGlyphs" >0</text>
<text x="275.62" y="228.70" font-size="8.5" textLength="14.28" lengthAdjust="spacingAndGlyphs" >100</text>
<text x="305.99" y="228.70" font-size="8.5" textLength="19.04" lengthAdjust="spacingAndGlyphs" >1000</text>
<text x="270.63" y="238.30" font-size="8.5" textLength="43.37" lengthAdjust="spacingAndGlyphs" >Time [min]</text>
</svg>
</body></html>
